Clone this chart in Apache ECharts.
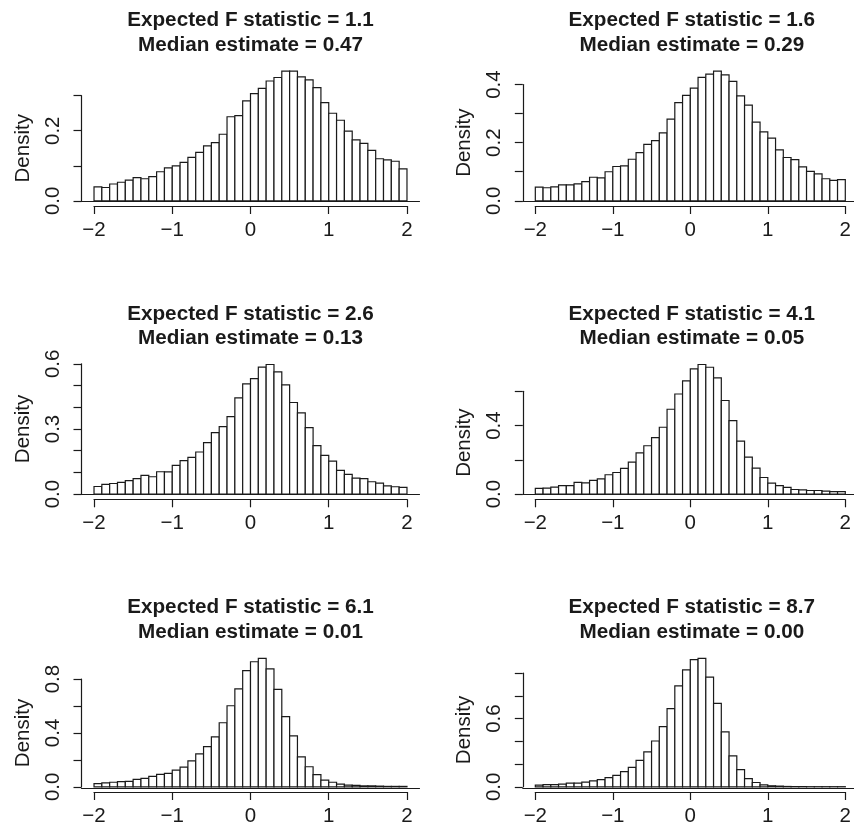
<!DOCTYPE html>
<html><head><meta charset="utf-8">
<script src="https://cdn.jsdelivr.net/npm/echarts@6/dist/echarts.min.js"></script>
<style>html,body{margin:0;padding:0;background:#fff}#c{width:854px;height:827px}</style>
</head><body><div id="c"></div>
<script>
// ---------- data ----------
const binEdges = [-2.0,-1.9,-1.8,-1.7,-1.6,-1.5,-1.4,-1.3,-1.2,-1.1,-1.0,-0.9,-0.8,-0.7,-0.6,-0.5,-0.4,-0.3,-0.2,-0.1,
  0.0,0.1,0.2,0.3,0.4,0.5,0.6,0.7,0.8,0.9,1.0,1.1,1.2,1.3,1.4,1.5,1.6,1.7,1.8,1.9,2.0];
const fStats  = ['1.1','1.6','2.6','4.1','6.1','8.7'];
const medians = ['0.47','0.29','0.13','0.05','0.01','0.00'];
const density1 = [0.040,0.038,0.048,0.053,0.059,0.066,0.063,0.069,0.083,0.094,0.100,0.110,0.124,0.138,0.157,0.166,0.190,0.240,0.243,0.285,
  0.306,0.321,0.342,0.352,0.370,0.370,0.354,0.345,0.323,0.280,0.250,0.230,0.199,0.174,0.164,0.144,0.120,0.117,0.113,0.091];
const density2 = [0.047,0.045,0.048,0.055,0.055,0.058,0.066,0.081,0.079,0.100,0.118,0.120,0.143,0.166,0.194,0.207,0.234,0.281,0.338,0.363,
  0.388,0.425,0.436,0.446,0.433,0.411,0.361,0.329,0.271,0.237,0.216,0.175,0.149,0.142,0.117,0.101,0.093,0.076,0.070,0.073];
const density3 = [0.035,0.045,0.049,0.054,0.062,0.071,0.086,0.080,0.103,0.102,0.132,0.154,0.169,0.194,0.237,0.283,0.311,0.357,0.443,0.508,
  0.532,0.585,0.597,0.563,0.503,0.422,0.374,0.306,0.223,0.178,0.152,0.109,0.091,0.074,0.071,0.057,0.051,0.038,0.034,0.031];
const density4 = [0.033,0.035,0.041,0.050,0.049,0.068,0.066,0.080,0.089,0.113,0.126,0.150,0.186,0.241,0.282,0.330,0.390,0.495,0.584,0.660,
  0.730,0.756,0.740,0.678,0.546,0.429,0.309,0.216,0.151,0.097,0.064,0.049,0.039,0.027,0.025,0.021,0.021,0.017,0.014,0.014];
const density5 = [0.024,0.029,0.034,0.039,0.041,0.056,0.063,0.078,0.093,0.100,0.124,0.146,0.193,0.244,0.298,0.371,0.476,0.602,0.727,0.863,
  0.929,0.954,0.876,0.724,0.522,0.378,0.222,0.149,0.090,0.049,0.034,0.020,0.012,0.010,0.007,0.007,0.005,0.003,0.003,0.003];
const density6 = [0.014,0.020,0.020,0.023,0.032,0.032,0.041,0.052,0.064,0.081,0.101,0.133,0.171,0.232,0.307,0.403,0.530,0.687,0.887,1.029,
  1.119,1.130,0.965,0.733,0.484,0.272,0.151,0.072,0.038,0.017,0.009,0.006,0.003,0.002,0.002,0.001,0.001,0.001,0.001,0.001];
const xTickLabels = [-2,-1,0,1,2];
const yTickStep = [0.1,0.1,0.1,0.2,0.2,0.2];
const yTickMax  = [0.3,0.4,0.6,0.6,0.8,1.0];
const yLabelValues = [[0,0.2],[0,0.2,0.4],[0,0.3,0.6],[0,0.4],[0,0.4,0.8],[0,0.6]];
const densities = [density1,density2,density3,density4,density5,density6];

// ---------- layout ----------
const FONT = 'Liberation Sans, Arial, Helvetica, sans-serif';
const INK = '#1a1a1a';
const colLeft = [81.5, 522.8];
const rowTop = [66, 359.3, 653];
const plotW = 338, plotH = 140;
const xPad = 0.04 * 4; // R usr padding

const grids = [], xAxes = [], yAxes = [], series = [], titles = [];
densities.forEach((dens, k) => {
  const col = k % 2, row = Math.floor(k / 2);
  const pl = colLeft[col], pt = rowTop[row], pb = pt + plotH;
  const M = Math.max(...dens);
  const yLo = -0.04 * M, yHi = 1.04 * M;
  const yPix = v => pb - (v - yLo) / (yHi - yLo) * plotH;
  const xMin = xTickLabels[0], xMax = xTickLabels[xTickLabels.length - 1];
  const xLo = xMin - xPad, xHi = xMax + xPad;
  const xPix = v => pl + (v - xLo) / (xHi - xLo) * plotW;

  // grid A : full plot region, baseline at y = 0
  const gA = grids.length;
  grids.push({left: pl, top: pt, width: plotW, height: plotH});
  xAxes.push({gridIndex: gA, type: 'value', min: xLo, max: xHi,
    axisLine: {show: true, onZero: true, lineStyle: {color: INK, width: 1.2}},
    axisTick: {show: false}, axisLabel: {show: false}, splitLine: {show: false}});
  yAxes.push({gridIndex: gA, type: 'value', min: yLo, max: yHi, show: false, splitLine: {show: false}});

  // grid B : axis region (-2..2, 0..last tick)
  const gB = grids.length;
  const tMax = yTickMax[k];
  grids.push({left: xPix(xMin), width: xPix(xMax) - xPix(xMin), top: yPix(tMax), height: yPix(0) - yPix(tMax)});
  xAxes.push({gridIndex: gB, type: 'value', min: xMin, max: xMax, interval: 1,
    offset: pb - yPix(0),
    axisLine: {show: true, onZero: false, lineStyle: {color: INK, width: 1.2}},
    axisTick: {show: true, length: 8, lineStyle: {color: INK, width: 1.2}},
    axisLabel: {margin: 14, fontSize: 20.5, fontFamily: FONT, color: INK,
      formatter: v => v < 0 ? '\u2212' + Math.abs(v) : String(v)},
    splitLine: {show: false}});
  const labs = yLabelValues[k];
  yAxes.push({gridIndex: gB, type: 'value', min: 0, max: tMax, interval: yTickStep[k],
    offset: xPix(xMin) - pl,
    name: 'Density', nameLocation: 'middle', nameRotate: 90, nameGap: 48,
    nameTextStyle: {fontSize: 20.5, fontFamily: FONT, color: INK},
    axisLine: {show: true, onZero: false, lineStyle: {color: INK, width: 1.2}},
    axisTick: {show: true, length: 8, lineStyle: {color: INK, width: 1.2}},
    axisLabel: {rotate: 90, margin: 18, fontSize: 20.5, fontFamily: FONT, color: INK,
      showMinLabel: true, showMaxLabel: true,
      formatter: v => labs.some(l => Math.abs(l - v) < 1e-6) ? v.toFixed(1) : ''},
    splitLine: {show: false}});

  series.push({type: 'custom', xAxisIndex: gB, yAxisIndex: gB, clip: false,
    data: dens.map((d, i) => [binEdges[i], binEdges[i + 1], d]),
    encode: {x: [0, 1], y: 2},
    renderItem: (params, api) => {
      const p0 = api.coord([api.value(0), api.value(2)]);
      const p1 = api.coord([api.value(1), 0]);
      return {type: 'rect', shape: {x: p0[0], y: p0[1], width: p1[0] - p0[0], height: p1[1] - p0[1]},
        style: {fill: '#ffffff', stroke: INK, lineWidth: 1.2}};
    }});

  titles.push({text: 'Expected F statistic = ' + fStats[k] + '\nMedian estimate = ' + medians[k],
    left: pl + plotW / 2, top: pt - 57.5, textAlign: 'center', padding: 0,
    textStyle: {fontSize: 20.7, fontWeight: 'bold', lineHeight: 24.5, fontFamily: FONT, color: INK}});
});

const chart = echarts.init(document.getElementById('c'), null, {renderer: 'canvas'});
chart.setOption({backgroundColor: '#ffffff', animation: false,
  title: titles, grid: grids, xAxis: xAxes, yAxis: yAxes, series: series});
</script></body></html>
